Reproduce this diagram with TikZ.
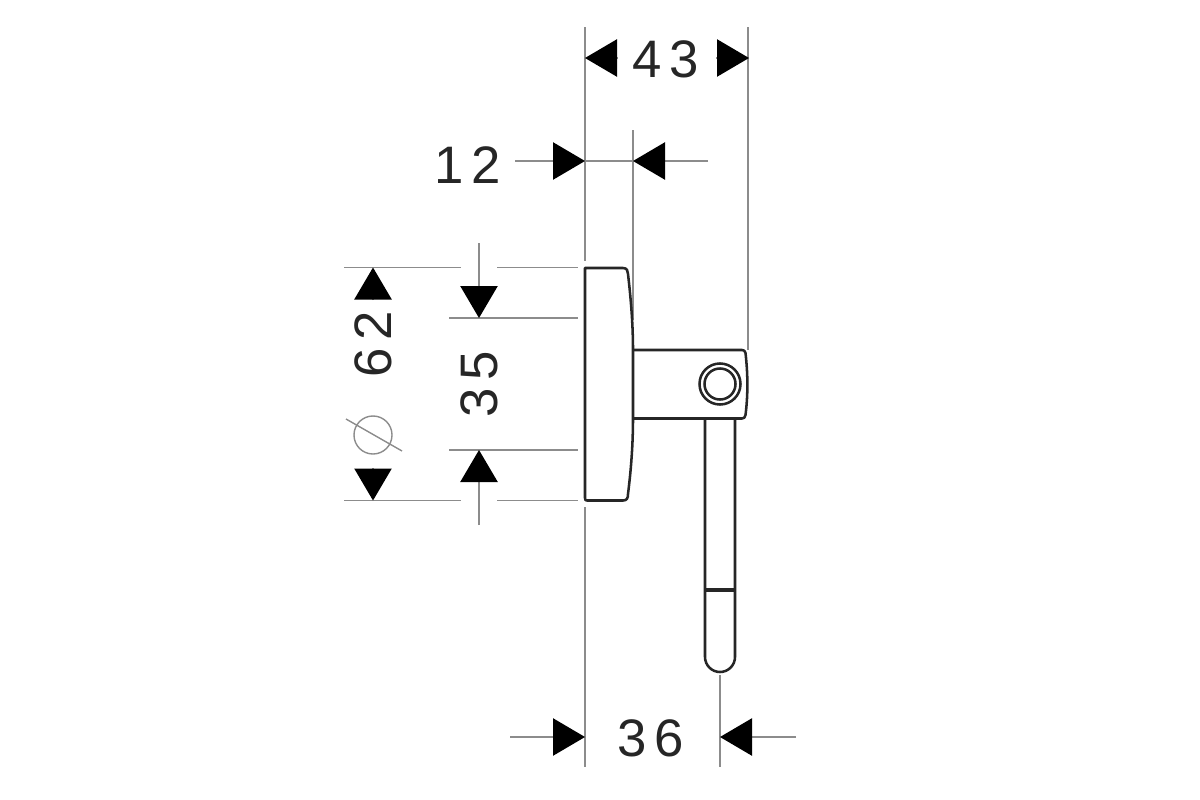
\documentclass[tikz,border=0pt]{standalone}
\usepackage{fontspec}
\setmainfont{Liberation Sans}
\usetikzlibrary{arrows.meta}
\tikzset{
  dimline/.style={draw=black!45, line width=0.4pt},
  dimarrow/.style={dimline, -{Triangle[length=9.1pt,width=10.6pt,color=black]}},
  partline/.style={draw=black!85, line width=0.72pt, line join=round},
  dimtext/.style={font=\fontsize{15}{16}\selectfont, text=black!85, inner sep=0pt},
}
\newcommand{\digitgap}{\kern2.2pt}
\begin{document}
\begin{tikzpicture}[x=0.01cm,y=-0.01cm]
\useasboundingbox (0,0) rectangle (1200,800);
% extension lines
\coordinate (wallA) at (585,27);
\coordinate (wallB) at (585,261);
\coordinate (wallC) at (585,507);
\coordinate (wallD) at (585,767);
\coordinate (armA) at (748,27);
\coordinate (armB) at (748,350);
\coordinate (plateA) at (633,130);
\coordinate (plateB) at (633,320);
\coordinate (stemA) at (720,675);
\coordinate (stemB) at (720,767);
\draw[dimline](wallA) -- (wallB);
\draw[dimline](wallC) -- (wallD);
\draw[dimline](armA) -- (armB);
\draw[dimline](plateA) -- (plateB);
\draw[dimline](stemA) -- (stemB);
\coordinate (topA) at (344,267.5);
\coordinate (topB) at (461,267.5);
\coordinate (topC) at (497,267.5);
\coordinate (topD) at (578,267.5);
\coordinate (lowA) at (344,500.5);
\coordinate (lowB) at (461,500.5);
\coordinate (lowC) at (497,500.5);
\coordinate (lowD) at (578,500.5);
\draw[dimline](topA) -- (topB);
\draw[dimline](topC) -- (topD);
\draw[dimline](lowA) -- (lowB);
\draw[dimline](lowC) -- (lowD);
\coordinate (holeA) at (449,318);
\coordinate (holeB) at (578,318);
\coordinate (holeC) at (449,450);
\coordinate (holeD) at (578,450);
\draw[dimline](holeA) -- (holeB);
\draw[dimline](holeC) -- (holeD);
% dimension 43
\coordinate (d43a) at (617,58);
\coordinate (d43b) at (585,58);
\coordinate (d43c) at (716,58);
\coordinate (d43d) at (749,58);
\draw[dimarrow](d43a) -- (d43b);
\draw[dimarrow](d43c) -- (d43d);
\node[dimtext] (t43) at (666,59){4\digitgap 3};
% dimension 12
\coordinate (d12a) at (515,161);
\coordinate (d12b) at (585,161);
\coordinate (d12c) at (708,161);
\coordinate (d12d) at (633,161);
\draw[dimarrow](d12a) -- (d12b);
\draw[dimarrow](d12c) -- (d12d);
\draw[dimline](d12b) -- (d12d);
\node[dimtext] (t12) at (468,165){1\digitgap 2};
% dimension 36
\coordinate (d36a) at (510,737);
\coordinate (d36b) at (585,737);
\coordinate (d36c) at (796,737);
\coordinate (d36d) at (720,737);
\draw[dimarrow](d36a) -- (d36b);
\draw[dimarrow](d36c) -- (d36d);
\node[dimtext] (t36) at (651,738){3\digitgap 6};
% dimension 35
\coordinate (d35a) at (479,243);
\coordinate (d35b) at (479,318);
\coordinate (d35c) at (479,525);
\coordinate (d35d) at (479,450);
\draw[dimarrow](d35a) -- (d35b);
\draw[dimarrow](d35c) -- (d35d);
\node[dimtext, rotate=90] (t35) at (479,384){3\digitgap 5};
% dimension 62
\coordinate (d62a) at (373,300);
\coordinate (d62b) at (373,267.5);
\coordinate (d62c) at (373,468);
\coordinate (d62d) at (373,500.5);
\draw[dimarrow](d62a) -- (d62b);
\draw[dimarrow](d62c) -- (d62d);
\node[dimtext, rotate=90] (t62) at (373,344){6\digitgap 2};
\node[circle, dimline, inner sep=0pt, minimum size=0.38cm] (dia) at (373,435){};
\coordinate (slashA) at (346,419);
\coordinate (slashB) at (402,451);
\draw[dimline](slashA) -- (slashB);
% wall plate
\draw[partline] (585,268) -- (623,268) .. controls (627,268) and (628,271) .. (628,274)
  .. controls (631,300) and (633,325) .. (633,350) -- (633,418)
  .. controls (633,445) and (631,470) .. (628,494)
  .. controls (628,498) and (627,500.5) .. (623,500.5) -- (587,500.5)
  .. controls (585.5,500.5) and (585,500) .. (585,498) -- cycle;
% arm
\draw[partline] (633,350) -- (742,350) .. controls (744,350) and (745,351) .. (745.5,353)
  .. controls (748,375) and (748,395) .. (745.5,415)
  .. controls (745,417.5) and (744,418.5) .. (742,418.5) -- (633,418.5);
\node[circle, partline, inner sep=0pt, minimum size=0.41cm] (ringA) at (720,384){};
\node[circle, partline, inner sep=0pt, minimum size=0.31cm] (ringB) at (720,384){};
% hook
\draw[partline] (705,418.5) -- (705,657) arc[start angle=180, end angle=0, radius=15] -- (735,418.5);
\coordinate (barA) at (705,590);
\coordinate (barB) at (735,590);
\draw[partline, line width=1.05pt](barA) -- (barB);
\end{tikzpicture}
\end{document}
